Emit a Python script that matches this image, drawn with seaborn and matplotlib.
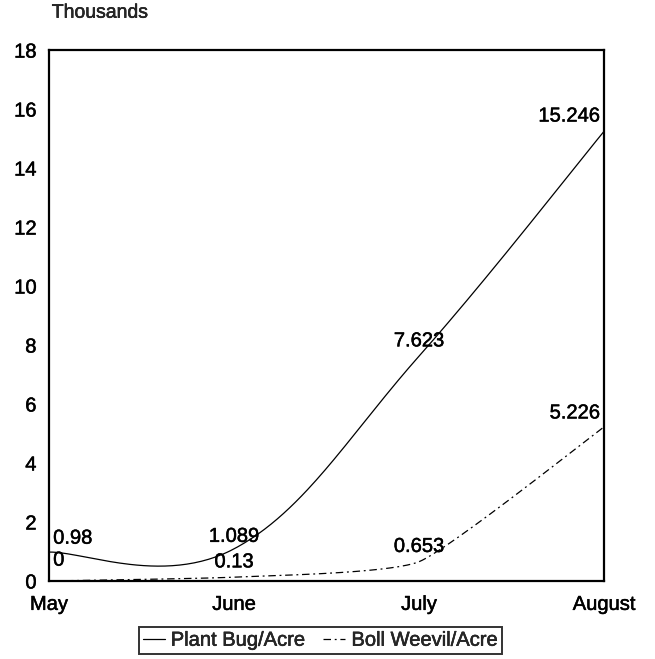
import numpy as np
import pandas as pd
import matplotlib
matplotlib.use("Agg")
import matplotlib.pyplot as plt
import matplotlib.patheffects as pe
import seaborn as sns

# Monthly pest counts (thousands per acre)
months = ["May", "June", "July", "August"]
plant_bug = [0.98, 1.089, 7.623, 15.246]
boll_weevil = [0, 0.13, 0.653, 5.226]
series_names = ["Plant Bug/Acre", "Boll Weevil/Acre"]
y_ticks = [0, 2, 4, 6, 8, 10, 12, 14, 16, 18]


def smooth_curve(xv, yv, k=1 / 6, n=60):
    """Bezier-smoothed polyline through the points (Catmull-Rom style handles)."""
    pts = np.column_stack([xv, yv]).astype(float)
    ext = np.vstack([pts[0], pts, pts[-1]])
    out = []
    for i in range(len(pts) - 1):
        p0, p1 = pts[i], pts[i + 1]
        c1 = p0 + (ext[i + 2] - ext[i]) * k
        c2 = p1 - (ext[i + 3] - ext[i + 1]) * k
        t = np.linspace(0, 1, n)[:, None]
        if i > 0:
            t = t[1:]
        seg = ((1 - t) ** 3) * p0 + 3 * ((1 - t) ** 2) * t * c1 \
            + 3 * (1 - t) * (t ** 2) * c2 + (t ** 3) * p1
        out.append(seg)
    return np.vstack(out)


sns.set_style("white")
plt.rcParams["font.family"] = ["Liberation Sans", "DejaVu Sans"]
FS = 14.5
heavy = [pe.withStroke(linewidth=0.35, foreground="black")]

x_pos = np.arange(len(months))
frames = []
for name, vals, k in [(series_names[0], plant_bug, 0.19),
                      (series_names[1], boll_weevil, 0.08)]:
    c = smooth_curve(x_pos, vals, k=k)
    frames.append(pd.DataFrame({"x": c[:, 0], "y": c[:, 1], "series": name}))
curves = pd.concat(frames, ignore_index=True)

fig = plt.figure(figsize=(6.55, 6.59), dpi=100)
ax = fig.add_axes([0.0748, 0.1184, 0.8474, 0.8056])

sns.lineplot(data=curves, x="x", y="y", hue="series", style="series",
             palette=["black", "black"],
             dashes={series_names[0]: "", series_names[1]: (6, 3, 1.5, 3)},
             sort=False, estimator=None, linewidth=0.9, ax=ax, legend=True)

ax.set_xlim(0, 3)
ax.set_ylim(0, 18)
ax.set_xticks(x_pos, months)
ax.set_yticks(y_ticks)
ax.set_xlabel("")
ax.set_ylabel("")
ax.tick_params(axis="both", length=0, labelsize=FS, colors="black")
ax.tick_params(axis="x", pad=10)
ax.tick_params(axis="y", pad=9)
for lab in ax.get_xticklabels() + ax.get_yticklabels():
    lab.set_path_effects(heavy)
for s in ax.spines.values():
    s.set_visible(True)
    s.set_color("black")
    s.set_linewidth(1.6)

# Value labels above each point
label_offsets = {series_names[0]: [10, 9, 11, 11], series_names[1]: [15, 11, 11, 10]}
for name, vals in [(series_names[0], plant_bug), (series_names[1], boll_weevil)]:
    for i, v in enumerate(vals):
        if i == 0:
            ha, dx = "left", 3
        elif i == len(vals) - 1:
            ha, dx = "right", -3
        else:
            ha, dx = "center", 0
        ax.annotate(f"{v:g}", (x_pos[i], v), xytext=(dx, label_offsets[name][i]),
                    textcoords="offset points", ha=ha, va="center",
                    fontsize=FS, color="black", path_effects=heavy)

fig.text(0.079, 0.980, "Thousands", fontsize=FS - 0.5, ha="left", va="center",
         path_effects=heavy)

handles, labels = ax.get_legend_handles_labels()
ax.get_legend().remove()
leg = fig.legend(handles, labels, loc="center", bbox_to_anchor=(0.489, 0.0285),
                 ncol=2, frameon=True, fancybox=False, edgecolor="black",
                 fontsize=FS, handlelength=1.1, handletextpad=0.3,
                 columnspacing=0.9, borderpad=0.2, borderaxespad=0)
leg.get_frame().set_linewidth(1.4)
for txt in leg.get_texts():
    txt.set_path_effects(heavy)

fig.savefig("out.png", dpi=100, facecolor="white")
